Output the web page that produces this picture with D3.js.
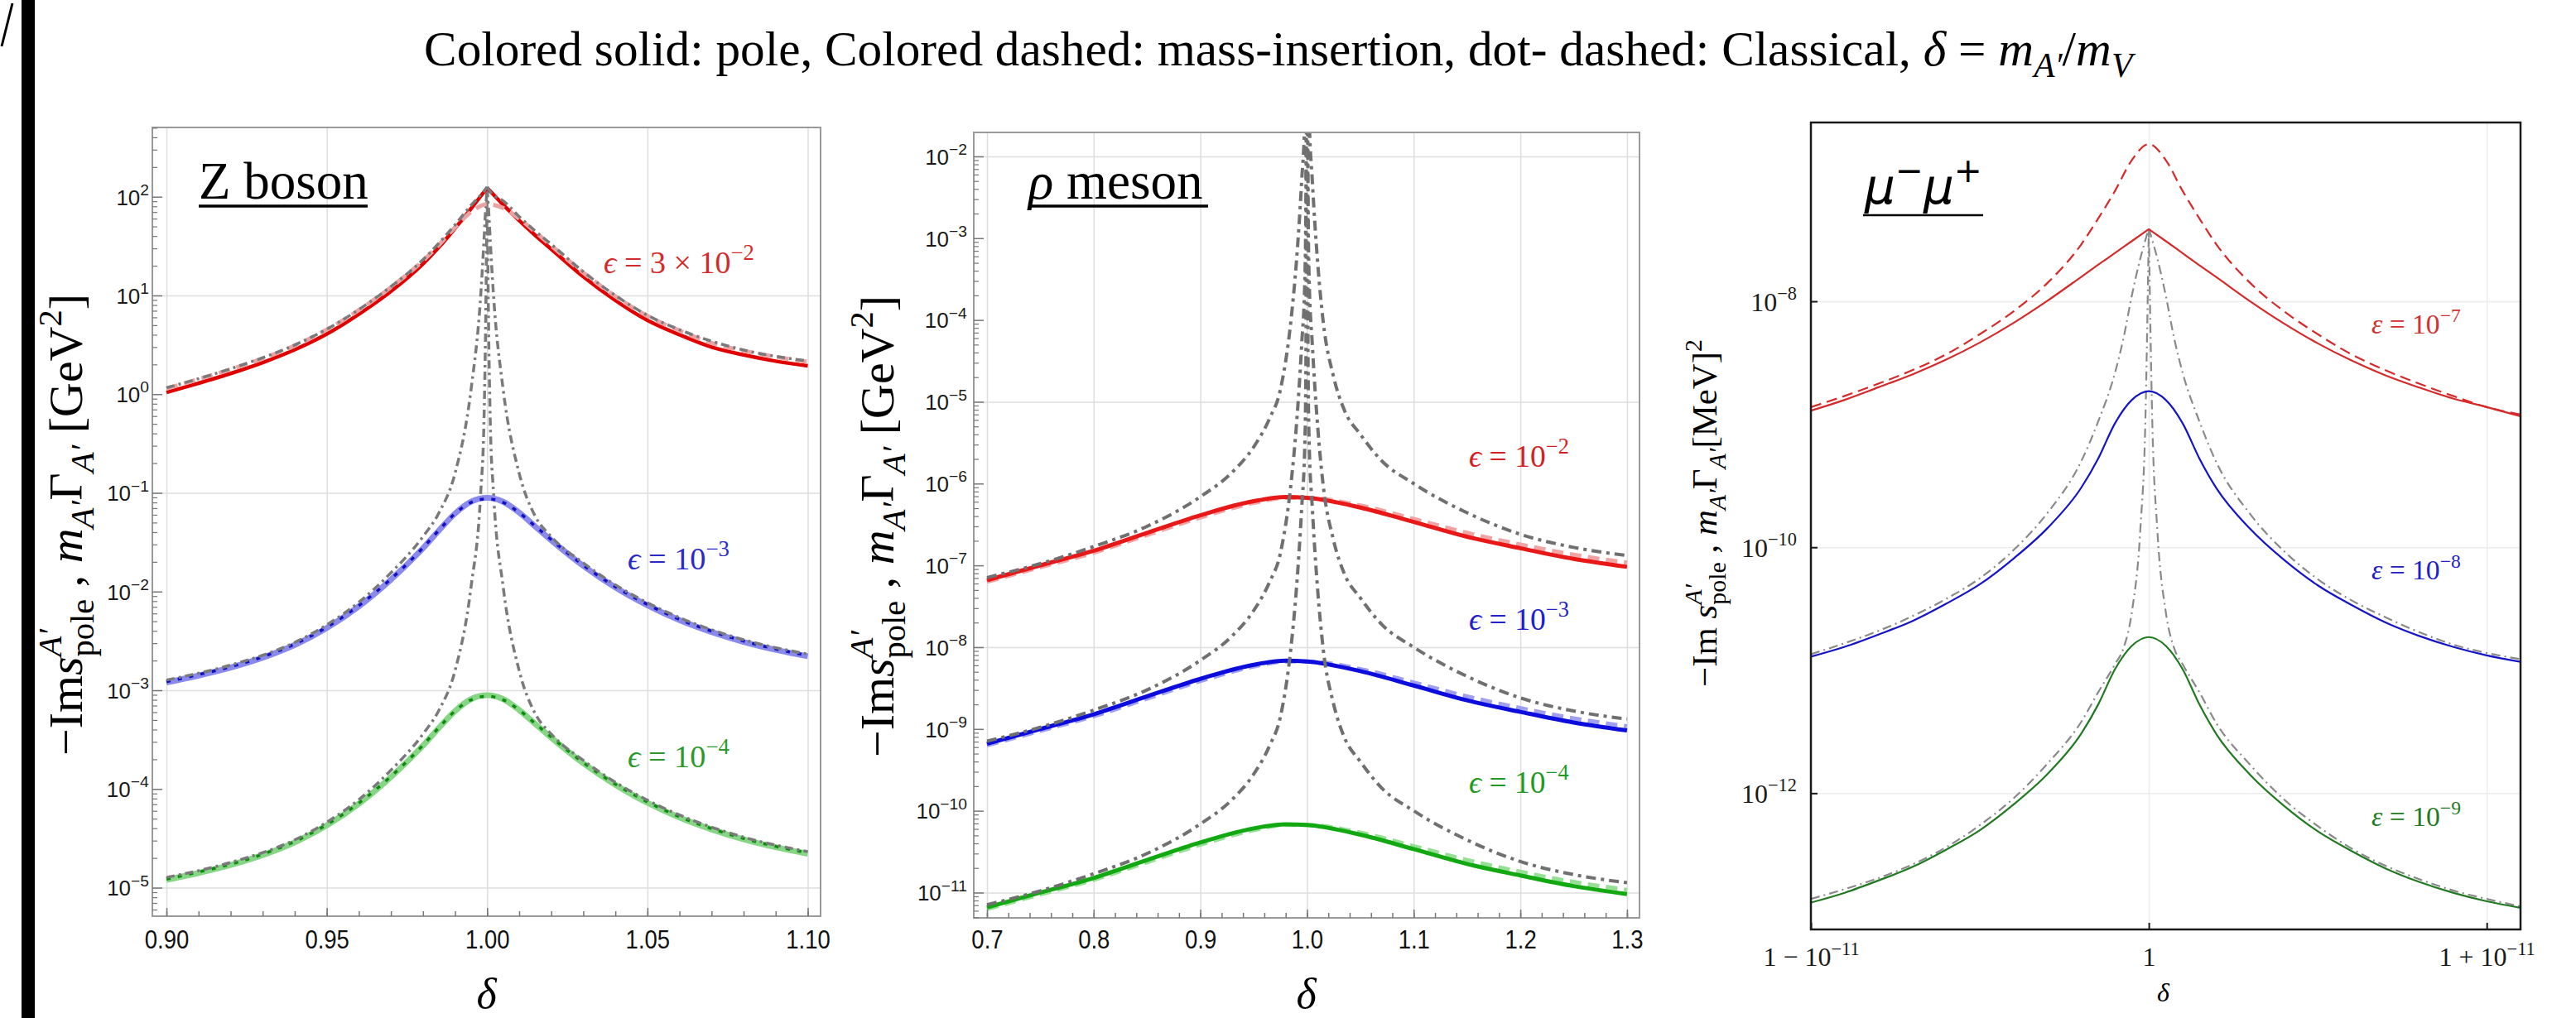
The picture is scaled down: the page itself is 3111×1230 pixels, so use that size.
<!DOCTYPE html>
<html><head><meta charset="utf-8">
<script src="https://cdn.jsdelivr.net/npm/d3@7"></script>
<style>body{margin:0;background:#fff}svg{display:block}</style>
</head><body>
<svg id="chart" width="3111" height="1230"></svg>
<script>
// ---------------- DATA ----------------
// Panel 1: Z boson (delta = m_A'/m_V)
const zDelta = [0.90,0.91,0.92,0.93,0.94,0.95,0.96,0.97,0.98,0.985,0.99,0.995,1.0,1.005,1.01,1.015,1.02,1.03,1.04,1.05,1.06,1.07,1.08,1.09,1.10];
const zPoleRed   = [1.04,1.29,1.62,2.09,2.82,4.07,6.46,11.0,20.9,30.9,47.9,75.9,123,83,57.5,40.7,29.5,15.5,8.9,5.6,4.0,3.0,2.5,2.16,1.94];
const zMassRed   = [1.14,1.42,1.78,2.3,3.1,4.5,7.1,12.1,22.5,32.5,49,70,84,77,60,44,32,17,9.8,6.2,4.4,3.3,2.75,2.38,2.13];
const zPoleBlue  = [1.2e-3,1.41e-3,1.7e-3,2.14e-3,2.88e-3,4.27e-3,7.08e-3,1.32e-2,2.75e-2,4.17e-2,6.17e-2,8.13e-2,8.91e-2,8.13e-2,6.31e-2,4.57e-2,3.31e-2,1.82e-2,1.1e-2,7.24e-3,5.13e-3,3.89e-3,3.09e-3,2.57e-3,2.21e-3];
const zMassBlue  = [1.22e-3,1.44e-3,1.73e-3,2.18e-3,2.94e-3,4.36e-3,7.2e-3,1.34e-2,2.78e-2,4.2e-2,6.17e-2,8.0e-2,8.7e-2,8.0e-2,6.3e-2,4.6e-2,3.36e-2,1.85e-2,1.12e-2,7.4e-3,5.23e-3,3.97e-3,3.15e-3,2.62e-3,2.25e-3];
const zPoleGreen = [1.2e-5,1.41e-5,1.7e-5,2.14e-5,2.88e-5,4.27e-5,7.08e-5,1.32e-4,2.75e-4,4.17e-4,6.17e-4,8.13e-4,8.91e-4,8.13e-4,6.31e-4,4.57e-4,3.31e-4,1.82e-4,1.1e-4,7.24e-5,5.13e-5,3.89e-5,3.09e-5,2.57e-5,2.21e-5];
const zMassGreen = [1.22e-5,1.44e-5,1.73e-5,2.18e-5,2.94e-5,4.36e-5,7.2e-5,1.34e-4,2.78e-4,4.2e-4,6.17e-4,8.0e-4,8.7e-4,8.0e-4,6.3e-4,4.6e-4,3.36e-4,1.85e-4,1.12e-4,7.4e-5,5.23e-5,3.97e-5,3.15e-5,2.62e-5,2.25e-5];
const zClassDelta = [0.90,0.92,0.94,0.95,0.96,0.97,0.98,0.985,0.99,0.995,0.998,0.999,0.9995,1.0,1.0005,1.001,1.002,1.005,1.01,1.015,1.02,1.03,1.04,1.05,1.06,1.08,1.10];
const zClassRed   = [1.16,1.81,3.15,4.55,7.2,12.3,23,34,52,82,104,113,119,126,119,112,104,91,63,45,33,17.4,10,6.3,4.5,2.8,2.17];
const zClassBlue  = [1.27e-3,1.8e-3,3.05e-3,4.6e-3,7.8e-3,1.55e-2,3.6e-2,6.3e-2,0.158,1.12,10,35,71,120,71,35,10,1.12,0.158,5.8e-2,3.6e-2,1.95e-2,1.17e-2,7.7e-3,5.45e-3,3.25e-3,2.32e-3];
const zClassGreen = [1.27e-5,1.8e-5,3.05e-5,4.6e-5,7.8e-5,1.55e-4,3.6e-4,6.3e-4,1.58e-3,1.12e-2,0.1,0.5,4.0,120,4.0,0.5,0.1,1.12e-2,1.58e-3,5.8e-4,3.6e-4,1.95e-4,1.17e-4,7.7e-5,5.45e-5,3.25e-5,2.32e-5];
const zXTicks = [0.90,0.95,1.00,1.05,1.10];
const zYExps  = [2,1,0,-1,-2,-3,-4,-5];

// Panel 2: rho meson
const rhoDelta = [0.70,0.75,0.80,0.85,0.90,0.95,0.98,1.00,1.05,1.10,1.15,1.20,1.25,1.30];
const rhoPoleRed   = [6.6e-8,1.0e-7,1.51e-7,2.5e-7,4.1e-7,6.1e-7,6.84e-7,6.7e-7,5.1e-7,3.4e-7,2.24e-7,1.62e-7,1.2e-7,9.6e-8];
const rhoMassRed   = [6.3e-8,9.5e-8,1.43e-7,2.35e-7,3.85e-7,5.8e-7,6.7e-7,6.7e-7,5.4e-7,3.7e-7,2.5e-7,1.8e-7,1.35e-7,1.08e-7];
const rhoPoleBlue  = [6.6e-10,1.0e-9,1.51e-9,2.5e-9,4.1e-9,6.1e-9,6.84e-9,6.7e-9,5.1e-9,3.4e-9,2.24e-9,1.62e-9,1.2e-9,9.6e-10];
const rhoMassBlue  = [6.3e-10,9.5e-10,1.43e-9,2.35e-9,3.85e-9,5.8e-9,6.7e-9,6.7e-9,5.4e-9,3.7e-9,2.5e-9,1.8e-9,1.35e-9,1.08e-9];
const rhoPoleGreen = [6.6e-12,1.0e-11,1.51e-11,2.5e-11,4.1e-11,6.1e-11,6.84e-11,6.7e-11,5.1e-11,3.4e-11,2.24e-11,1.62e-11,1.2e-11,9.6e-12];
const rhoMassGreen = [6.3e-12,9.5e-12,1.43e-11,2.35e-11,3.85e-11,5.8e-11,6.7e-11,6.7e-11,5.4e-11,3.7e-11,2.5e-11,1.8e-11,1.35e-11,1.08e-11];
const rhoClassDelta = [0.70,0.75,0.80,0.85,0.90,0.93,0.95,0.965,0.975,0.985,0.99,0.995,0.998,0.999,1.0,1.001,1.002,1.005,1.01,1.015,1.025,1.035,1.05,1.07,1.10,1.15,1.20,1.25,1.30];
const rhoClassRed   = [7.1e-8,1.05e-7,1.7e-7,3.0e-7,6.9e-7,1.38e-6,2.8e-6,6.3e-6,1.4e-5,1.0e-4,5.0e-4,5.0e-3,3.2e-2,0.3,1e3,0.3,3.2e-2,5.0e-3,5.0e-4,1.0e-4,2.0e-5,7.9e-6,4.0e-6,1.9e-6,1.0e-6,4.4e-7,2.4e-7,1.66e-7,1.32e-7];
const rhoClassBlue  = [7.1e-10,1.05e-9,1.7e-9,3.0e-9,6.9e-9,1.38e-8,2.8e-8,6.3e-8,1.4e-7,1.0e-6,5.0e-6,5.0e-5,3.2e-4,3e-3,1e3,3e-3,3.2e-4,5.0e-5,5.0e-6,1.0e-6,2.0e-7,7.9e-8,4.0e-8,1.9e-8,1.0e-8,4.4e-9,2.4e-9,1.66e-9,1.32e-9];
const rhoClassGreen = [7.1e-12,1.05e-11,1.7e-11,3.0e-11,6.9e-11,1.38e-10,2.8e-10,6.3e-10,1.4e-9,1.0e-8,5.0e-8,5.0e-7,3.2e-6,3e-5,1e3,3e-5,3.2e-6,5.0e-7,5.0e-8,1.0e-8,2.0e-9,7.9e-10,4.0e-10,1.9e-10,1.0e-10,4.4e-11,2.4e-11,1.66e-11,1.32e-11];
const rhoXTicks = [0.7,0.8,0.9,1.0,1.1,1.2,1.3];
const rhoYExps  = [-2,-3,-4,-5,-6,-7,-8,-9,-10,-11];

// Panel 3: mu- mu+ (x = delta - 1 in units of 1e-11)
const muOffset = [-1,-0.9,-0.8,-0.7,-0.6,-0.5,-0.4,-0.3,-0.2,-0.15,-0.1,-0.05,0,0.05,0.1,0.15,0.2,0.3,0.4,0.5,0.6,0.7,0.8,0.9,1.0,1.1];
const muPoleRed   = [1.29e-9,1.58e-9,2.0e-9,2.54e-9,3.35e-9,4.62e-9,6.68e-9,1.01e-8,1.58e-8,1.98e-8,2.47e-8,3.09e-8,3.86e-8,3.09e-8,2.46e-8,1.96e-8,1.57e-8,1.0e-8,6.6e-9,4.55e-9,3.3e-9,2.5e-9,1.99e-9,1.62e-9,1.38e-9,1.16e-9];
const muMassRed   = [1.38e-9,1.7e-9,2.14e-9,2.75e-9,3.7e-9,5.4e-9,8.3e-9,1.41e-8,2.9e-8,4.7e-8,7.9e-8,1.41e-7,1.9e-7,1.41e-7,7.9e-8,4.7e-8,2.9e-8,1.41e-8,8.3e-9,5.4e-9,3.7e-9,2.75e-9,2.14e-9,1.7e-9,1.38e-9,1.2e-9];
const muPoleBlue  = [1.29e-11,1.55e-11,1.95e-11,2.51e-11,3.47e-11,5.0e-11,8.1e-11,1.43e-10,3.05e-10,5.25e-10,1.02e-9,1.58e-9,1.86e-9,1.58e-9,1.02e-9,5.25e-10,3.02e-10,1.41e-10,7.9e-11,4.9e-11,3.39e-11,2.45e-11,1.9e-11,1.55e-11,1.32e-11,1.17e-11];
const muPoleGreen = [1.29e-13,1.55e-13,1.95e-13,2.51e-13,3.47e-13,5.0e-13,8.1e-13,1.43e-12,3.05e-12,5.25e-12,1.02e-11,1.58e-11,1.86e-11,1.58e-11,1.02e-11,5.25e-12,3.02e-12,1.41e-12,7.9e-13,4.9e-13,3.39e-13,2.45e-13,1.9e-13,1.55e-13,1.32e-13,1.17e-13];
const muClassOffset = [-1,-0.9,-0.8,-0.7,-0.6,-0.5,-0.4,-0.3,-0.2,-0.15,-0.1,-0.075,-0.05,-0.025,-0.01,0,0.01,0.025,0.05,0.075,0.1,0.15,0.2,0.3,0.4,0.5,0.6,0.7,0.8,0.9,1.0,1.1];
const muClassBlue  = [1.35e-11,1.66e-11,2.09e-11,2.75e-11,3.8e-11,5.6e-11,9.5e-11,1.9e-10,5.0e-10,1.05e-9,2.63e-9,5.0e-9,1.12e-8,2.24e-8,3.16e-8,3.9e-8,3.16e-8,2.24e-8,1.12e-8,5.0e-9,2.63e-9,1.05e-9,4.9e-10,1.86e-10,9.3e-11,5.5e-11,3.7e-11,2.7e-11,2.04e-11,1.62e-11,1.38e-11,1.23e-11];
const muClassGreen = [1.38e-13,1.66e-13,2.04e-13,2.63e-13,3.63e-13,5.5e-13,9.1e-13,1.74e-12,3.8e-12,6.6e-12,1.12e-11,1.51e-11,3.0e-11,1.41e-10,1.12e-9,3.9e-8,1.12e-9,1.41e-10,3.0e-11,1.51e-11,1.12e-11,6.6e-12,3.7e-12,1.7e-12,8.9e-13,5.4e-13,3.55e-13,2.57e-13,2.0e-13,1.62e-13,1.38e-13,1.2e-13];
const muXTicks = [-1,0,1];
const muXTickLabels = [[{t:"1 − 10",sup:"−11"}],[{t:"1"}],[{t:"1 + 10",sup:"−11"}]];
const muYExps = [-8,-10,-12];

// ---------------- DRAWING ----------------
const W = 3111, H = 1230;
const SERIF = "'Liberation Serif','Times New Roman','DejaVu Serif',serif";
const SANS  = "'Liberation Sans',Arial,Helvetica,sans-serif";
const svg = d3.select("#chart");
svg.append("rect").attr("width", W).attr("height", H).attr("fill", "#fff");

// left black edge strip and slash fragment
svg.append("rect").attr("x", 26).attr("y", 0).attr("width", 16).attr("height", H).attr("fill", "#000");
svg.append("line").attr("x1", 2).attr("y1", 56).attr("x2", 15).attr("y2", 4).attr("stroke", "#000").attr("stroke-width", 3);

function mathText(parent, items, o) {
  const g = parent.append("g");
  const fs = o.fs, sfs = fs * (o.scr || 0.7);
  let cx = 0;
  const mk = (txt, x, y, size, ital) => {
    const t = g.append("text").attr("x", x).attr("y", y).attr("font-size", size)
      .attr("font-family", o.family || SERIF).attr("text-anchor", "start")
      .attr("font-style", (ital || o.italicAll) ? "italic" : "normal")
      .attr("fill", o.fill || "#000").style("white-space", "pre").text(txt);
    return t.node().getComputedTextLength();
  };
  for (const it of items) {
    if (it.t) cx += mk(it.t, cx, 0, fs, it.i);
    let adv = 0;
    if (it.sup) adv = Math.max(adv, mk(it.sup, cx, -fs * (o.supUp || 0.42), sfs, it.supI));
    if (it.sub) adv = Math.max(adv, mk(it.sub, cx, fs * (o.subDn || 0.24), sfs, it.subI));
    cx += adv;
  }
  return {g, w: cx, fs};
}
function placeMath(parent, items, o) {
  let r = mathText(parent, items, o);
  if (o.fitW) {
    const b0 = r.g.node().getBBox();
    r.g.remove();
    o = Object.assign({}, o, {fs: o.fs * o.fitW / b0.width});
    r = mathText(parent, items, o);
  }
  const bb = r.g.node().getBBox();
  let dx = 0;
  if (o.anchor === "middle") dx = -(bb.x + bb.width / 2);
  else if (o.anchor === "end") dx = -(bb.x + bb.width);
  if (o.rotate) {
    const dy = -(bb.y + bb.height / 2);
    r.g.attr("transform", `translate(${o.x},${o.y}) rotate(-90) translate(${dx},${dy})`);
  } else r.g.attr("transform", `translate(${o.x + dx},${o.y})`);
  return r;
}

function buildPanel(p) {
  const x = d3.scaleLinear().domain(p.xdom).range([p.x0, p.x1]);
  const y = d3.scaleLog().domain(p.ydom).range([p.y1, p.y0]);
  const g = svg.append("g");
  const gx = g.append("g").attr("transform", `translate(0,${p.y1})`)
    .call(d3.axisBottom(x).tickValues(p.gridX).tickSize(-(p.y1 - p.y0)).tickFormat(""));
  gx.select(".domain").remove();
  gx.selectAll("line").attr("stroke", p.gridColor).attr("stroke-width", p.gridW);
  const gy = g.append("g").attr("transform", `translate(${p.x0},0)`)
    .call(d3.axisLeft(y).tickValues(p.gridY).tickSize(-(p.x1 - p.x0)).tickFormat(""));
  gy.select(".domain").remove();
  gy.selectAll("line").attr("stroke", p.gridColor).attr("stroke-width", p.gridW);
  const cid = "clip" + p.id;
  svg.append("clipPath").attr("id", cid).append("rect")
    .attr("x", p.x0).attr("y", p.y0).attr("width", p.x1 - p.x0).attr("height", p.y1 - p.y0);
  const plot = g.append("g").attr("clip-path", `url(#${cid})`);
  return Object.assign({x, y, g, plot}, p);
}

function curve(P, xs, ys, s) {
  const pts = d3.zip(xs, ys);
  const line = d3.line().x(d => P.x(d[0])).y(d => P.y(d[1])).curve(d3.curveMonotoneX);
  let parts = [pts];
  if (s.cusp) {
    const k = d3.maxIndex(ys);
    parts = [pts.slice(0, k + 1), pts.slice(k)];
  }
  for (const part of parts) {
    P.plot.append("path").datum(part).attr("d", line).attr("fill", "none")
      .attr("stroke", s.c).attr("stroke-width", s.w)
      .attr("stroke-dasharray", s.d || null).attr("stroke-linejoin", "round")
      .attr("stroke-linecap", s.cap || "butt");
  }
}

function frame(P, color, w) {
  P.g.append("rect").attr("x", P.x0).attr("y", P.y0).attr("width", P.x1 - P.x0).attr("height", P.y1 - P.y0)
    .attr("fill", "none").attr("stroke", color).attr("stroke-width", w);
}

function logMinor(lo, hi) {
  const out = [];
  for (let e = lo; e <= hi; e++) for (let k = 2; k <= 9; k++) out.push(k * Math.pow(10, e));
  return out;
}

function yAxis(P, exps, o) {
  const ax = P.g.append("g").attr("transform", `translate(${P.x0},0)`)
    .call(d3.axisLeft(P.y).tickValues(exps.map(e => Math.pow(10, e))).tickSizeInner(-o.major).tickSizeOuter(0).tickFormat(""));
  ax.select(".domain").remove();
  ax.selectAll(".tick line").attr("stroke", o.tc).attr("stroke-width", o.tw);
  ax.selectAll(".tick").each(function (d) {
    const e = Math.round(Math.log10(d));
    const lab = e < 0 ? "−" + (-e) : String(e);
    placeMath(d3.select(this), [{t: "10", sup: lab}],
      {fs: o.fs, family: o.family, x: -o.pad, y: o.fs * 0.36, anchor: "end", scr: o.scr, supUp: o.supUp, fill: "#1a1a1a"});
  });
  if (o.minor) {
    const [lo, hi] = P.ydom.map(v => Math.log10(v));
    const mv = logMinor(Math.floor(lo), Math.ceil(hi)).filter(v => v > P.ydom[0] && v < P.ydom[1]);
    const am = P.g.append("g").attr("transform", `translate(${P.x0},0)`)
      .call(d3.axisLeft(P.y).tickValues(mv).tickSizeInner(-o.minor).tickSizeOuter(0).tickFormat(""));
    am.select(".domain").remove();
    am.selectAll(".tick line").attr("stroke", o.tc).attr("stroke-width", 1.2);
  }
}

function xAxis(P, ticks, minor, fmt, o) {
  const ax = P.g.append("g").attr("transform", `translate(0,${P.y1})`)
    .call(d3.axisBottom(P.x).tickValues(ticks).tickSizeInner(-o.major).tickSizeOuter(0).tickPadding(o.pad).tickFormat(fmt));
  ax.select(".domain").remove();
  ax.selectAll(".tick line").attr("stroke", o.tc).attr("stroke-width", o.tw);
  ax.selectAll(".tick text").attr("font-size", o.fs).attr("font-family", SANS).attr("fill", "#111")
    .attr("transform", "scale(0.86,1)");
  if (minor) {
    const am = P.g.append("g").attr("transform", `translate(0,${P.y1})`)
      .call(d3.axisBottom(P.x).tickValues(minor).tickSizeInner(-o.minor).tickSizeOuter(0).tickFormat(""));
    am.select(".domain").remove();
    am.selectAll(".tick line").attr("stroke", o.tc).attr("stroke-width", 1.5);
  }
}

// ---------- Title ----------
placeMath(svg, [
  {t: "Colored solid: pole, Colored dashed: mass-insertion, dot- dashed: Classical, "},
  {t: "δ", i: true}, {t: " = "}, {t: "m", i: true, sub: "A′", subI: true}, {t: "/"}, {t: "m", i: true, sub: "V", subI: true}
], {fs: 64, family: SERIF, x: 1546, y: 79, anchor: "middle", fitW: 2068});

const yLabelGeV = [{t: "−Im"}, {t: "s", i: true, sup: "A′", supI: true, sub: "pole"}, {t: " , "},
  {t: "m", i: true, sub: "A′", subI: true}, {t: "Γ", sub: "A′", subI: true}, {t: " [GeV", sup: "2"}, {t: "]"}];
const yLabelMeV = [{t: "−Im "}, {t: "s", i: true, sup: "A′", supI: true, sub: "pole"}, {t: " , "},
  {t: "m", i: true, sub: "A′", subI: true}, {t: "Γ", sub: "A′", subI: true}, {t: "[MeV]", sup: "2"}];

// ---------- Panel 1 ----------
const P1 = buildPanel({id: 1, x0: 184, x1: 991, y0: 154, y1: 1107, xdom: [0.8956, 1.104],
  ydom: [Math.pow(10, -5.289), Math.pow(10, 2.702)], gridX: zXTicks, gridY: [10, 0.1, 1e-3, 1e-5],
  gridColor: "#dedede", gridW: 1.5});
const GR1 = {c: "#7a7a7a", w: 3.5, d: "10,5,3,5"};
curve(P1, zDelta, zPoleGreen, {c: "#86d686", w: 7});
curve(P1, zDelta, zMassGreen, {c: "#0e8a0e", w: 3.5, d: "5,9"});
curve(P1, zClassDelta, zClassGreen, Object.assign({cusp: true}, GR1));
curve(P1, zDelta, zPoleBlue, {c: "#8a8aec", w: 7});
curve(P1, zDelta, zMassBlue, {c: "#1010c0", w: 3.5, d: "5,9"});
curve(P1, zClassDelta, zClassBlue, Object.assign({cusp: true}, GR1));
curve(P1, zDelta, zPoleRed, {c: "#e00000", w: 4.5, cusp: true});
curve(P1, zDelta, zMassRed, {c: "#eaa2a2", w: 5, d: "14,8"});
curve(P1, zClassDelta, zClassRed, Object.assign({cusp: true}, GR1));
frame(P1, "#9a9a9a", 2);
xAxis(P1, zXTicks, d3.range(0.90, 1.1001, 0.01), d3.format(".2f"), {major: 10, minor: 6, pad: 16, fs: 32, tc: "#777", tw: 1.5});
yAxis(P1, zYExps, {major: 12, minor: 6, fs: 26, pad: 4, tc: "#777", tw: 1.5, family: SANS, scr: 0.74, supUp: 0.45});
placeMath(svg, yLabelGeV, {fs: 46, x: 80, y: 634, anchor: "middle", rotate: true, fitW: 558});
placeMath(svg, [{t: "δ", i: true}], {fs: 52, x: 588, y: 1218, anchor: "middle"});
placeMath(svg, [{t: "Z boson"}], {fs: 63, x: 240, y: 240});
svg.append("line").attr("x1", 240).attr("x2", 444).attr("y1", 249).attr("y2", 249).attr("stroke", "#000").attr("stroke-width", 3.5);
placeMath(svg, [{t: "ϵ", i: true}, {t: " = 3 × 10", sup: "−2"}], {fs: 34, x: 729, y: 330, fill: "#d42a2a", fitW: 182});
placeMath(svg, [{t: "ϵ", i: true}, {t: " = 10", sup: "−3"}], {fs: 34, x: 758, y: 688, fill: "#2a2acc", fitW: 123});
placeMath(svg, [{t: "ϵ", i: true}, {t: " = 10", sup: "−4"}], {fs: 34, x: 758, y: 927, fill: "#2a9a2a", fitW: 123});

// ---------- Panel 2 ----------
const P2 = buildPanel({id: 2, x0: 1176, x1: 1980, y0: 160, y1: 1109, xdom: [0.6876, 1.3117],
  ydom: [Math.pow(10, -11.309), Math.pow(10, -1.707)], gridX: rhoXTicks, gridY: [1e-2, 1e-5, 1e-8, 1e-11],
  gridColor: "#dedede", gridW: 1.5});
const GR2 = {c: "#707070", w: 4, d: "12,6,4,6"};
[[rhoPoleRed, rhoMassRed, rhoClassRed, "#e81818", "#f0a4a4"],
 [rhoPoleBlue, rhoMassBlue, rhoClassBlue, "#0c0cdc", "#a0a0ee"],
 [rhoPoleGreen, rhoMassGreen, rhoClassGreen, "#12a812", "#96e096"]].forEach(([pole, mass, cls, c, lc]) => {
  curve(P2, rhoDelta, mass, {c: lc, w: 5, d: "14,8"});
  curve(P2, rhoDelta, pole, {c: c, w: 5});
  curve(P2, rhoClassDelta, cls, GR2);
});
frame(P2, "#9a9a9a", 2);
xAxis(P2, rhoXTicks, d3.range(0.70, 1.3001, 0.02), d3.format(".1f"), {major: 10, minor: 6, pad: 14, fs: 32, tc: "#777", tw: 1.5});
yAxis(P2, rhoYExps, {major: 12, minor: 6, fs: 26, pad: 8, tc: "#777", tw: 1.5, family: SANS, scr: 0.74, supUp: 0.45});
placeMath(svg, yLabelGeV, {fs: 46, x: 1060, y: 636, anchor: "middle", rotate: true, fitW: 558});
placeMath(svg, [{t: "δ", i: true}], {fs: 52, x: 1578, y: 1218, anchor: "middle"});
placeMath(svg, [{t: "ρ", i: true}, {t: " meson"}], {fs: 63, x: 1242, y: 240});
svg.append("line").attr("x1", 1242).attr("x2", 1459).attr("y1", 249).attr("y2", 249).attr("stroke", "#000").attr("stroke-width", 3.5);
placeMath(svg, [{t: "ϵ", i: true}, {t: " = 10", sup: "−2"}], {fs: 36, x: 1774, y: 564, fill: "#d42020", fitW: 121});
placeMath(svg, [{t: "ϵ", i: true}, {t: " = 10", sup: "−3"}], {fs: 36, x: 1774, y: 761, fill: "#2020cc", fitW: 121});
placeMath(svg, [{t: "ϵ", i: true}, {t: " = 10", sup: "−4"}], {fs: 36, x: 1774, y: 958, fill: "#209a20", fitW: 121});

// ---------- Panel 3 ----------
const P3 = buildPanel({id: 3, x0: 2187, x1: 3044, y0: 148, y1: 1123, xdom: [-1, 1.1],
  ydom: [Math.pow(10, -13.108), Math.pow(10, -6.546)], gridX: muXTicks, gridY: [1e-8, 1e-10, 1e-12],
  gridColor: "#ececec", gridW: 1.5});
const GR3 = {c: "#8a8a8a", w: 2.2, d: "11,5,2,5"};
curve(P3, muClassOffset, muClassGreen, Object.assign({cusp: true}, GR3));
curve(P3, muClassOffset, muClassBlue, Object.assign({cusp: true}, GR3));
curve(P3, muOffset, muPoleGreen, {c: "#217a21", w: 2.2});
curve(P3, muOffset, muPoleBlue, {c: "#1414c8", w: 2.2});
curve(P3, muOffset, muPoleRed, {c: "#d62a2a", w: 2.2, cusp: true});
curve(P3, muOffset, muMassRed, {c: "#d62a2a", w: 2.2, d: "13,7"});
frame(P3, "#1a1a1a", 2.5);
{
  const ax = P3.g.append("g").attr("transform", `translate(0,${P3.y1})`)
    .call(d3.axisBottom(P3.x).tickValues(muXTicks).tickSizeInner(-8).tickSizeOuter(0).tickFormat(""));
  ax.select(".domain").remove();
  ax.selectAll(".tick line").attr("stroke", "#1a1a1a").attr("stroke-width", 2);
  ax.selectAll(".tick").each(function (d, i) {
    placeMath(d3.select(this), muXTickLabels[i], {fs: 32, x: 0, y: 44, anchor: "middle", fill: "#1a1a1a"});
  });
  const ay = P3.g.append("g").attr("transform", `translate(${P3.x0},0)`)
    .call(d3.axisLeft(P3.y).tickValues(muYExps.map(e => Math.pow(10, e))).tickSizeInner(-8).tickSizeOuter(0).tickFormat(""));
  ay.select(".domain").remove();
  ay.selectAll(".tick line").attr("stroke", "#1a1a1a").attr("stroke-width", 2);
  ay.selectAll(".tick").each(function (d) {
    const e = Math.round(Math.log10(d));
    placeMath(d3.select(this), [{t: "10", sup: "−" + (-e)}], {fs: 32, x: -17, y: 11, anchor: "end", fill: "#1a1a1a"});
  });
}
placeMath(svg, yLabelMeV, {fs: 32, x: 2059, y: 620, anchor: "middle", rotate: true, fitW: 420});
placeMath(svg, [{t: "δ", i: true}], {fs: 32, x: 2613, y: 1210, anchor: "middle"});
placeMath(svg, [{t: "μ", sup: "−"}, {t: "μ", sup: "+"}], {fs: 50, x: 2252, y: 246, family: "'DejaVu Sans',sans-serif", italicAll: true, fitW: 143, supUp: 0.45});
svg.append("line").attr("x1", 2250).attr("x2", 2395).attr("y1", 260).attr("y2", 260).attr("stroke", "#000").attr("stroke-width", 2.5);
placeMath(svg, [{t: "ε", i: true}, {t: " = 10", sup: "−7"}], {fs: 28, x: 2864, y: 403, fill: "#d43030", fitW: 108});
placeMath(svg, [{t: "ε", i: true}, {t: " = 10", sup: "−8"}], {fs: 28, x: 2864, y: 700, fill: "#2020c8", fitW: 108});
placeMath(svg, [{t: "ε", i: true}, {t: " = 10", sup: "−9"}], {fs: 28, x: 2864, y: 998, fill: "#237a23", fitW: 108});
</script>
</body></html>
